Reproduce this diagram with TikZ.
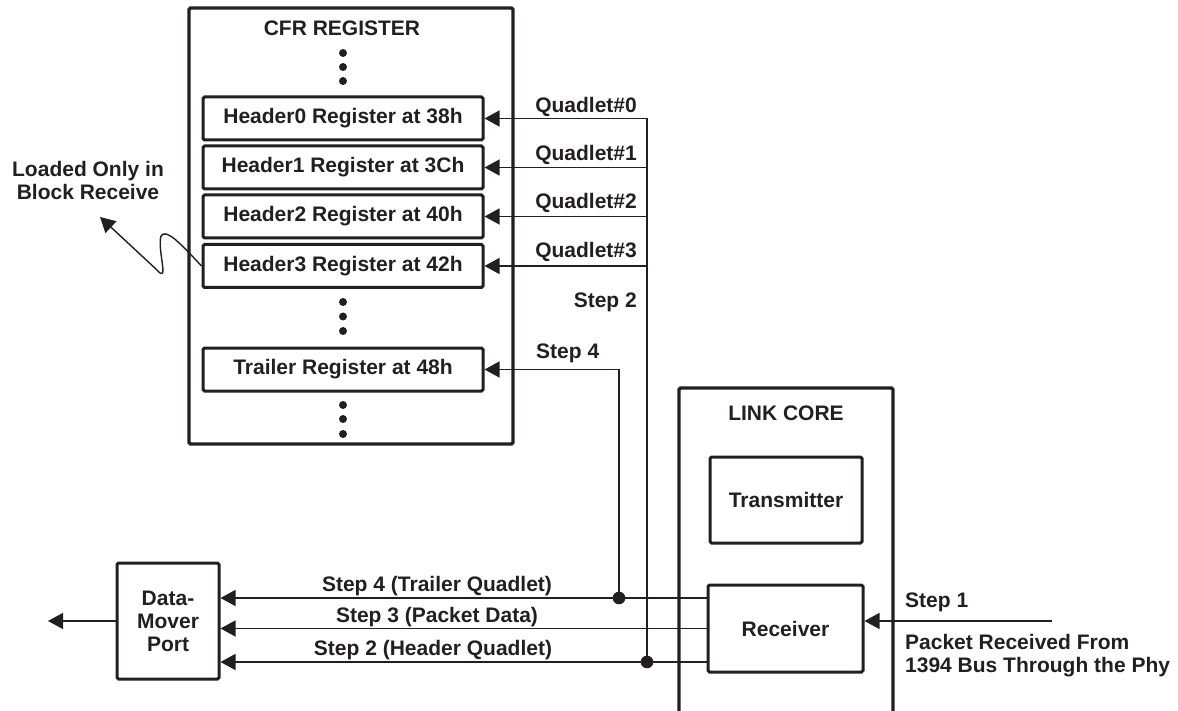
\documentclass[tikz,border=0pt]{standalone}
\usepackage{fontspec}
\setmainfont{Liberation Sans}
\usetikzlibrary{arrows.meta}
\definecolor{ink}{RGB}{35,31,32}
\begin{document}
\begin{tikzpicture}[x=1pt,y=-1pt,
  lbl/.style={font=\fontsize{21}{23}\selectfont\bfseries, text=ink, inner sep=0pt},
  boxx/.style={draw=ink, line width=3pt, rounded corners=1.5pt, fill=white, lbl},
  reg/.style={boxx, minimum width=280pt, minimum height=43pt},
  conn/.style={draw=ink, line width=1.4pt},
  arr/.style={conn, -{Triangle[length=15pt,width=16pt]}},
  bigdot/.style={fill=ink, draw=none},
]
\useasboundingbox (0,0) rectangle (1178,711);

% CFR register outer box
\draw[ink, line width=3.2pt, rounded corners=1.5pt] (189,8) rectangle (513,444);
\node[lbl, anchor=base] (cfrt) at (342,36) {CFR REGISTER};

\foreach \yy in {53,67,81,302,316.5,331,405,419,434}
  \fill[bigdot] (343,\yy) circle (4);

\node[reg] (h0) at (343,118.5) {Header0 Register at 38h};
\node[reg] (h1) at (343,167.5) {Header1 Register at 3Ch};
\node[reg] (h2) at (343,216.5) {Header2 Register at 40h};
\node[reg] (h3) at (343,266) {Header3 Register at 42h};
\node[reg] (tr) at (343,369.5) {Trailer Register at 48h};

% Link core
\draw[ink, line width=3.2pt, rounded corners=1.5pt] (679,715) -- (679,388) -- (893,388) -- (893,715);
\node[lbl, anchor=base] (lct) at (786,420) {LINK CORE};
\node[boxx, minimum width=152pt, minimum height=86pt] (tx) at (786,500) {Transmitter};
\node[boxx, minimum width=155pt, minimum height=87pt] (rx) at (785.5,628.5) {Receiver};

% Data mover
\node[boxx, minimum width=102pt, minimum height=116pt, align=center] (dm) at (168,621) {Data-\\Mover\\Port};

% junctions
\coordinate (j4) at (619,598);
\coordinate (j2) at (647,662);
\coordinate (out) at (48,621);
\coordinate (src) at (1052,621);
\coordinate (lo) at (100,217);

% quadlet connectors
\draw[arr] (j2) -- (j2 |- h0.east) -- (h0.east);
\draw[arr] (j2 |- h1.east) -- (h1.east);
\draw[arr] (j2 |- h2.east) -- (h2.east);
\draw[arr] (j2 |- h3.east) -- (h3.east);
\draw[arr] (j4) |- (tr.east);

% bottom connectors
\draw[arr] (rx.west |- j4) -- (dm.east |- j4);
\draw[arr] (rx.west) -- (rx.west -| dm.east);
\draw[arr] (rx.west |- j2) -- (dm.east |- j2);
\fill[bigdot] (j4) circle (6.3);
\fill[bigdot] (j2) circle (6.3);
\draw[arr] (dm.west) -- (out);
\draw[arr] (src) -- (src -| rx.east);

% loaded only curve
\draw[arr] (h3.west) .. controls (180,243) and (166,228) .. (161,236)
  .. controls (157,250) and (170,285) .. (157,270) -- (lo);
\node[lbl, anchor=north, align=center] (lt) at (88,161) {Loaded Only in\\Block Receive};

% labels
\node[lbl, anchor=base east] (lq0) at (637,113) {Quadlet\#0};
\node[lbl, anchor=base east] (lq1) at (637,161) {Quadlet\#1};
\node[lbl, anchor=base east] (lq2) at (637,209) {Quadlet\#2};
\node[lbl, anchor=base east] (lq3) at (637,258) {Quadlet\#3};
\node[lbl, anchor=base east] (ls2) at (637,308) {Step 2};
\node[lbl, anchor=base west] (ls4) at (536,358) {Step 4};
\node[lbl, anchor=base] (lb4) at (437,591) {Step 4 (Trailer Quadlet)};
\node[lbl, anchor=base] (lb3) at (437,622) {Step 3 (Packet Data)};
\node[lbl, anchor=base] (lb2) at (433,655) {Step 2 (Header Quadlet)};
\node[lbl, anchor=base west] (ls1) at (905,607) {Step 1};
\node[lbl, anchor=north west, align=left] (lpk) at (905,634) {Packet Received From\\1394 Bus Through the Phy};
\end{tikzpicture}
\end{document}
